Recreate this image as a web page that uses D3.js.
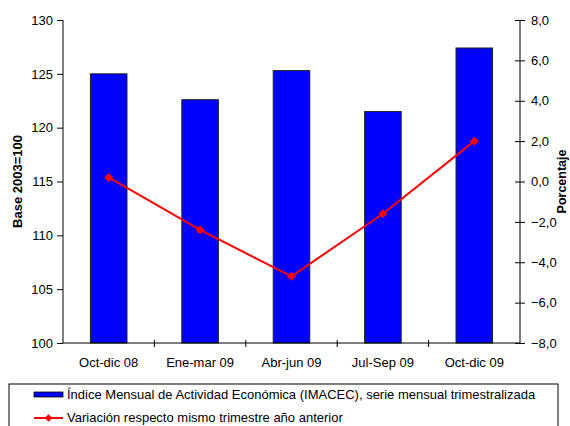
<!DOCTYPE html>
<html>
<head>
<meta charset="utf-8">
<script src="https://cdn.jsdelivr.net/npm/d3@7"></script>
<style>
  body { margin: 0; background: #fff; }
  svg text { font-family: "Liberation Sans", Arial, sans-serif; fill: #000; }
</style>
</head>
<body>
<svg id="viz"></svg>
<script>
// data
var quarters = ['Oct-dic 08', 'Ene-mar 09', 'Abr-jun 09', 'Jul-Sep 09', 'Oct-dic 09'];
var imacec = [125.0, 122.6, 125.3, 121.5, 127.4];
var variacion = [0.2, -2.4, -4.7, -1.6, 2.0];
var leftTicks = [100, 105, 110, 115, 120, 125, 130];
var rightTicks = [-8, -6, -4, -2, 0, 2, 4, 6, 8];
var barLabel = 'Índice Mensual de Actividad Económica (IMACEC), serie mensual trimestralizada';
var lineLabel = 'Variación respecto mismo trimestre año anterior';

var width = 570, height = 426;
var margin = { top: 20, right: 50, bottom: 83, left: 63 };
var drawWidth = width - margin.left - margin.right;
var drawHeight = height - margin.top - margin.bottom;

var svg = d3.select('#viz').attr('width', width).attr('height', height);
var g = svg.append('g').attr('transform', `translate(${margin.left},${margin.top})`);

var xScale = d3.scaleBand().domain(quarters).range([0, drawWidth]).paddingInner(0.6).paddingOuter(0.3);
var yLeft = d3.scaleLinear().domain([100, 130]).range([drawHeight, 0]);
var yRight = d3.scaleLinear().domain([-8, 8]).range([drawHeight, 0]);
var comma = function(v){ return d3.format('.1f')(v).replace('.', ','); };

// bars
g.selectAll('rect.bar')
  .data(imacec)
  .enter().append('rect')
  .attr('class', 'bar')
  .attr('x', (d, i) => xScale(quarters[i]))
  .attr('y', d => yLeft(d))
  .attr('width', xScale.bandwidth())
  .attr('height', d => drawHeight - yLeft(d))
  .attr('fill', '#0000ff')
  .attr('stroke', '#222')
  .attr('stroke-width', 1);

// left axis
var leftAxis = g.append('g')
  .call(d3.axisLeft(yLeft).tickValues(leftTicks).tickSize(6).tickPadding(4));
// right axis
var rightAxis = g.append('g')
  .attr('transform', `translate(${drawWidth},0)`)
  .call(d3.axisRight(yRight).tickValues(rightTicks).tickFormat(comma).tickSize(5).tickPadding(6));
rightAxis.selectAll('.tick line').attr('x1', -5);

// x axis: ticks sit between the categories
var xAxisG = g.append('g').attr('transform', `translate(0,${drawHeight})`);
xAxisG.append('line').attr('x1', 0).attr('x2', drawWidth).attr('stroke', '#000');
var step = drawWidth / quarters.length;
xAxisG.selectAll('line.tk')
  .data(d3.range(1, quarters.length))
  .enter().append('line')
  .attr('class', 'tk')
  .attr('x1', i => i * step).attr('x2', i => i * step)
  .attr('y1', -3).attr('y2', 4)
  .attr('stroke', '#000');
xAxisG.selectAll('text')
  .data(quarters)
  .enter().append('text')
  .attr('x', d => xScale(d) + xScale.bandwidth() / 2)
  .attr('y', 24)
  .attr('text-anchor', 'middle')
  .style('font-size', '13px')
  .text(d => d);

[leftAxis, rightAxis].forEach(function(a){
  a.select('.domain').attr('stroke', '#000');
  a.selectAll('.tick line').attr('stroke', '#000');
  a.selectAll('.tick text').style('font-size', '13px').attr('font-family', null);
  a.attr('font-family', null).attr('font-size', null);
});
leftAxis.select('.domain').attr('d', `M0,0V${drawHeight}`);
rightAxis.select('.domain').attr('d', `M0,0V${drawHeight}`);

// line series
var cx = (d, i) => xScale(quarters[i]) + xScale.bandwidth() / 2;
var line = d3.line().x(cx).y(d => yRight(d));
g.append('path')
  .datum(variacion)
  .attr('d', line)
  .attr('fill', 'none')
  .attr('stroke', '#ff0000')
  .attr('stroke-width', 2);
g.selectAll('path.marker')
  .data(variacion)
  .enter().append('path')
  .attr('class', 'marker')
  .attr('d', d3.symbol(d3.symbolSquare, 40))
  .attr('transform', (d, i) => `translate(${cx(d, i)},${yRight(d)}) rotate(45)`)
  .attr('fill', '#ff0000');

// axis titles
svg.append('text')
  .attr('transform', `translate(22,${margin.top + drawHeight / 2}) rotate(-90)`)
  .attr('text-anchor', 'middle')
  .style('font-size', '13px').style('font-weight', 'bold')
  .text('Base 2003=100');
svg.append('text')
  .attr('transform', `translate(566,${margin.top + drawHeight / 2}) rotate(-90)`)
  .attr('text-anchor', 'middle')
  .style('font-size', '12.5px').style('font-weight', 'bold')
  .text('Porcentaje');

// legend
var legend = svg.append('g').attr('transform', 'translate(9,384)');
legend.append('rect')
  .attr('width', 549).attr('height', 50)
  .attr('fill', 'none').attr('stroke', '#000');
legend.append('rect')
  .attr('x', 25).attr('y', 8).attr('width', 29).attr('height', 5)
  .attr('fill', '#0000ff').attr('stroke', '#000').attr('stroke-width', 0.8);
legend.append('text')
  .attr('x', 58).attr('y', 15)
  .style('font-size', '13px')
  .text(barLabel);
legend.append('line')
  .attr('x1', 25).attr('x2', 54).attr('y1', 34).attr('y2', 34)
  .attr('stroke', '#ff0000').attr('stroke-width', 2);
legend.append('path')
  .attr('d', d3.symbol(d3.symbolSquare, 30))
  .attr('transform', 'translate(39.5,34) rotate(45)')
  .attr('fill', '#ff0000');
legend.append('text')
  .attr('x', 58).attr('y', 38)
  .style('font-size', '13px')
  .text(lineLabel);
</script>
</body>
</html>
